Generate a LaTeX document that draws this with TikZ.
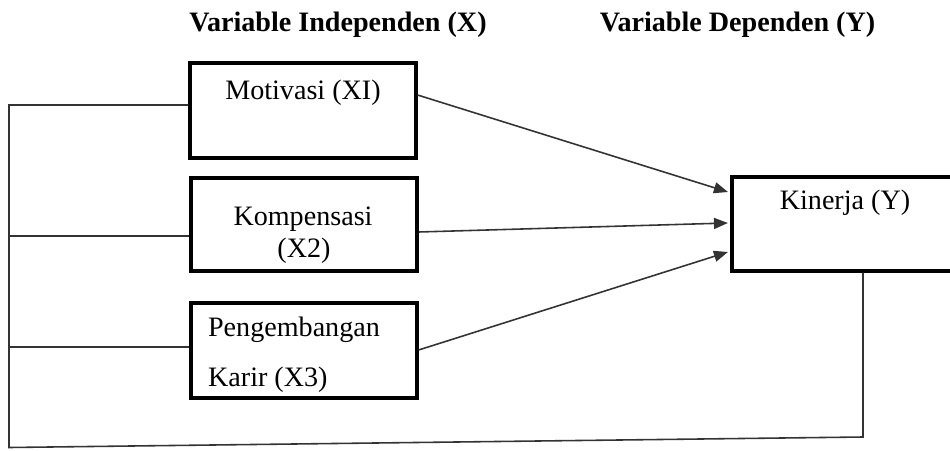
\documentclass[tikz,border=0pt]{standalone}
\usepackage{fontspec}
\setmainfont{Liberation Serif}
\usetikzlibrary{arrows.meta, positioning, calc}

\begin{document}
\begin{tikzpicture}[
    varbox/.style={draw, line width=1.8pt, minimum width=4.52cm, minimum height=1.9cm, inner sep=0pt},
    teks/.style={font=\fontsize{16}{18}\selectfont, inner sep=1pt},
    judul/.style={font=\fontsize{16}{18}\selectfont\bfseries, inner sep=1pt},
    garis/.style={draw=black!80, line width=0.9pt},
    panah/.style={garis, -{Triangle[length=0.28cm, width=0.22cm]}}
  ]
    \useasboundingbox (0,0) rectangle (19,9);
    % judul kolom
    \node[judul] (jx) at (6.76, 8.5) {Variable Independen (X)};
    \node[judul] (jy) at (14.75, 8.5) {Variable Dependen (Y)};
    % kotak variabel
    \node[varbox] (m1) at (6.06, 6.79) {};
    \node[varbox, minimum height=1.86cm] (m2) at (6.08, 4.51) {};
    \node[varbox] (m3) at (6.08, 1.99) {};
    \node[varbox, minimum width=4.6cm, minimum height=1.88cm] (k) at (16.94, 4.52) {};
    \node[teks] (t1) at (6.06, 7.14) {Motivasi (XI)};
    \node[teks] (t2a) at (6.06, 4.62) {Kompensasi};
    \node[teks] (t2b) at (6.08, 3.98) {(X2)};
    \node[teks, anchor=west] (t3a) at (4.12, 2.4) {Pengembangan};
    \node[teks, anchor=west] (t3b) at (4.12, 1.4) {Karir (X3)};
    \node[teks] (tk) at (16.9, 4.94) {Kinerja (Y)};
    % garis kiri dan bawah
    \coordinate (j1) at (0.18, 6.9);
    \coordinate (j2) at (0.18, 4.28);
    \coordinate (j3) at (0.18, 2.06);
    \coordinate (lb) at (0.18, 0.05);
    \coordinate (rb) at (17.26, 0.26);
    \draw[garis] (j1 -| m1.west) -- (j1) -- (lb) -- (rb) -- (rb |- k.south);
    \draw[garis] (j2) -- (j2 -| m2.west);
    \draw[garis] (j3) -- (j3 -| m3.west);
    % panah ke Kinerja
    \draw[panah] ($(m1.east)+(0,0.31)$) -- ($(k.west)+(-0.05,0.64)$);
    \draw[panah] ($(m2.east)+(0,-0.15)$) -- ($(k.west)+(-0.05,0.02)$);
    \draw[panah] ($(m3.east)+(0,0.01)$) -- ($(k.west)+(-0.05,-0.56)$);
  \end{tikzpicture}
\end{document}
